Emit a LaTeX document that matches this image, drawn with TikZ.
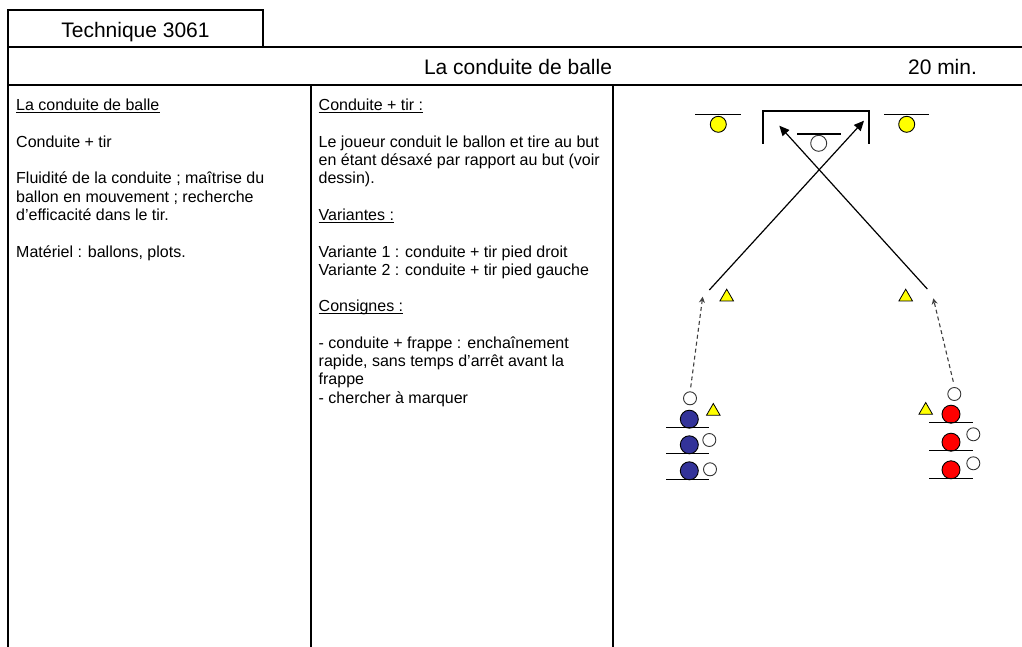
\documentclass[tikz,border=0pt]{standalone}
\usepackage{fontspec}
\setmainfont{Liberation Sans}
\usetikzlibrary{arrows.meta,shapes.geometric}
\definecolor{pblue}{RGB}{51,51,153}
\definecolor{pyellow}{RGB}{255,255,0}
\definecolor{pred}{RGB}{255,0,0}
\begin{document}
\begin{tikzpicture}[x=1pt,y=-1pt,
  tbl/.style={line width=2pt},
  body/.style={font=\fontsize{16}{18.4}\selectfont, inner sep=0pt, anchor=base west},
  head/.style={font=\fontsize{21}{24}\selectfont, inner sep=0pt, anchor=base},
  uline/.style={line width=1pt},
  ball/.style={circle, draw=black!80, line width=0.9pt, fill=white, minimum size=13pt, inner sep=0pt},
  keeper/.style={circle, draw=black!80, line width=0.9pt, fill=white, minimum size=16pt, inner sep=0pt},
  blueP/.style={circle, draw=black, line width=0.9pt, fill=pblue, minimum size=18pt, inner sep=0pt},
  redP/.style={circle, draw=black, line width=0.9pt, fill=pred, minimum size=18pt, inner sep=0pt},
  yellowP/.style={circle, draw=black, line width=0.9pt, fill=pyellow, minimum size=16pt, inner sep=0pt},
  plot/.style={regular polygon, regular polygon sides=3, draw=black, line width=0.8pt, fill=pyellow, minimum size=15.6pt, inner sep=0pt},
  base/.style={line width=1.5pt},
  goalline/.style={line width=1.8pt},
  shot/.style={line width=1.2pt, -{Triangle[length=10pt,width=9pt]}},
  run/.style={line width=1.1pt, draw=black!75, dash pattern=on 4pt off 3pt, -{Stealth[length=6pt,width=6pt]}}
]
\useasboundingbox (0,0) rectangle (1022,647);
\fill[white] (0,0) rectangle (1022,647);
% table
\draw[tbl] (8,647) -- (8,10) -- (263,10) -- (263,47);
\draw[tbl] (8,47) -- (1022,47);
\draw[tbl] (8,85) -- (1022,85);
\draw[tbl] (310.5,85) -- (310.5,647);
\draw[tbl] (613,85) -- (613,647);
% headers
\node[head] (tech) at (135.5,37.5) {Technique 3061};
\node[head] (title) at (518,75) {La conduite de balle};
\node[head] (dur) at (942.5,75) {20 min.};
% column 1
\node[body] (a1) at (16,111) {La conduite de balle};
\draw[uline] ([yshift=-2pt]a1.base west) -- ([yshift=-2pt]a1.base east);
\node[body] (a3) at (16,147.5) {Conduite + tir};
\node[body] (a5) at (16,184) {Fluidité de la conduite ; maîtrise du};
\node[body] (a6) at (16,202.25) {ballon en mouvement ; recherche};
\node[body] (a7) at (16,220.5) {d’efficacité dans le tir.};
\node[body] (a9) at (16,257) {Matériel : ballons, plots.};
% column 2
\node[body] (b1) at (318.5,111) {Conduite + tir :};
\draw[uline] ([yshift=-2pt]b1.base west) -- ([yshift=-2pt]b1.base east);
\node[body] (b3) at (318.5,147.5) {Le joueur conduit le ballon et tire au but};
\node[body] (b4) at (318.5,165.75) {en étant désaxé par rapport au but (voir};
\node[body] (b5) at (318.5,184) {dessin).};
\node[body] (b7) at (318.5,220.5) {Variantes :};
\draw[uline] ([yshift=-2pt]b7.base west) -- ([yshift=-2pt]b7.base east);
\node[body] (b9) at (318.5,257) {Variante 1 : conduite + tir pied droit};
\node[body] (b10) at (318.5,275.25) {Variante 2 : conduite + tir pied gauche};
\node[body] (b12) at (318.5,311.75) {Consignes :};
\draw[uline] ([yshift=-2pt]b12.base west) -- ([yshift=-2pt]b12.base east);
\node[body] (b14) at (318.5,348.25) {- conduite + frappe : enchaînement};
\node[body] (b15) at (318.5,366.5) {rapide, sans temps d’arrêt avant la};
\node[body] (b16) at (318.5,384.75) {frappe};
\node[body] (b17) at (318.5,403) {- chercher à marquer};
% goal and keepers
\draw[goalline] (763.3,144) -- (763.3,110.7) -- (869.3,110.7) -- (869.3,144);
\draw[base] (797.3,134) -- (840.7,134);
\node[keeper] (gk) at (818.7,143.3) {};
\draw[base] (695,114.3) -- (740.7,114.3);
\node[yellowP] (y1) at (718.3,124.3) {};
\draw[base] (884.3,114.3) -- (929.3,114.3);
\node[yellowP] (y2) at (906.7,124.3) {};
% plots
\node[plot] (pl1) at (726.7,297) {};
\node[plot] (pl2) at (905.7,297) {};
\node[plot] (pl3) at (713.3,411.3) {};
\node[plot] (pl4) at (925.7,410.3) {};
% blue group
\node[ball] (wb1) at (690,398.3) {};
\node[blueP] (bp1) at (689.3,419.2) {};
\draw[base] (666,427.7) -- (709.3,427.7);
\node[blueP] (bp2) at (689.3,444.8) {};
\node[ball] (wb2) at (709.3,440) {};
\draw[base] (666,453.3) -- (709.3,453.3);
\node[blueP] (bp3) at (689.3,470.8) {};
\node[ball] (wb3) at (710,469.3) {};
\draw[base] (666,479.3) -- (709.3,479.3);
% red group
\node[ball] (wr1) at (954.3,394) {};
\node[redP] (rp1) at (951,414.2) {};
\draw[base] (929.3,422.7) -- (972.7,422.7);
\node[redP] (rp2) at (951,442.2) {};
\node[ball] (wr2) at (973.3,434.3) {};
\draw[base] (929.3,450.7) -- (972.7,450.7);
\node[redP] (rp3) at (951,469.8) {};
\node[ball] (wr3) at (973.3,463.3) {};
\draw[base] (929.3,478.3) -- (972.7,478.3);
% runs and shots
\coordinate (dL0) at (690.7,387.3);
\coordinate (dL1) at (702.7,296.7);
\coordinate (dR0) at (953.3,381.7);
\coordinate (dR1) at (933.3,298.3);
\draw[run] (dL0) -- (dL1);
\draw[run] (dR0) -- (dR1);
\coordinate (sL) at (709.3,290);
\coordinate (tR) at (864,120.7);
\coordinate (sR) at (927.3,289);
\coordinate (tL) at (779.3,125.7);
\draw[shot] (sL) -- (tR);
\draw[shot] (sR) -- (tL);
\end{tikzpicture}
\end{document}
